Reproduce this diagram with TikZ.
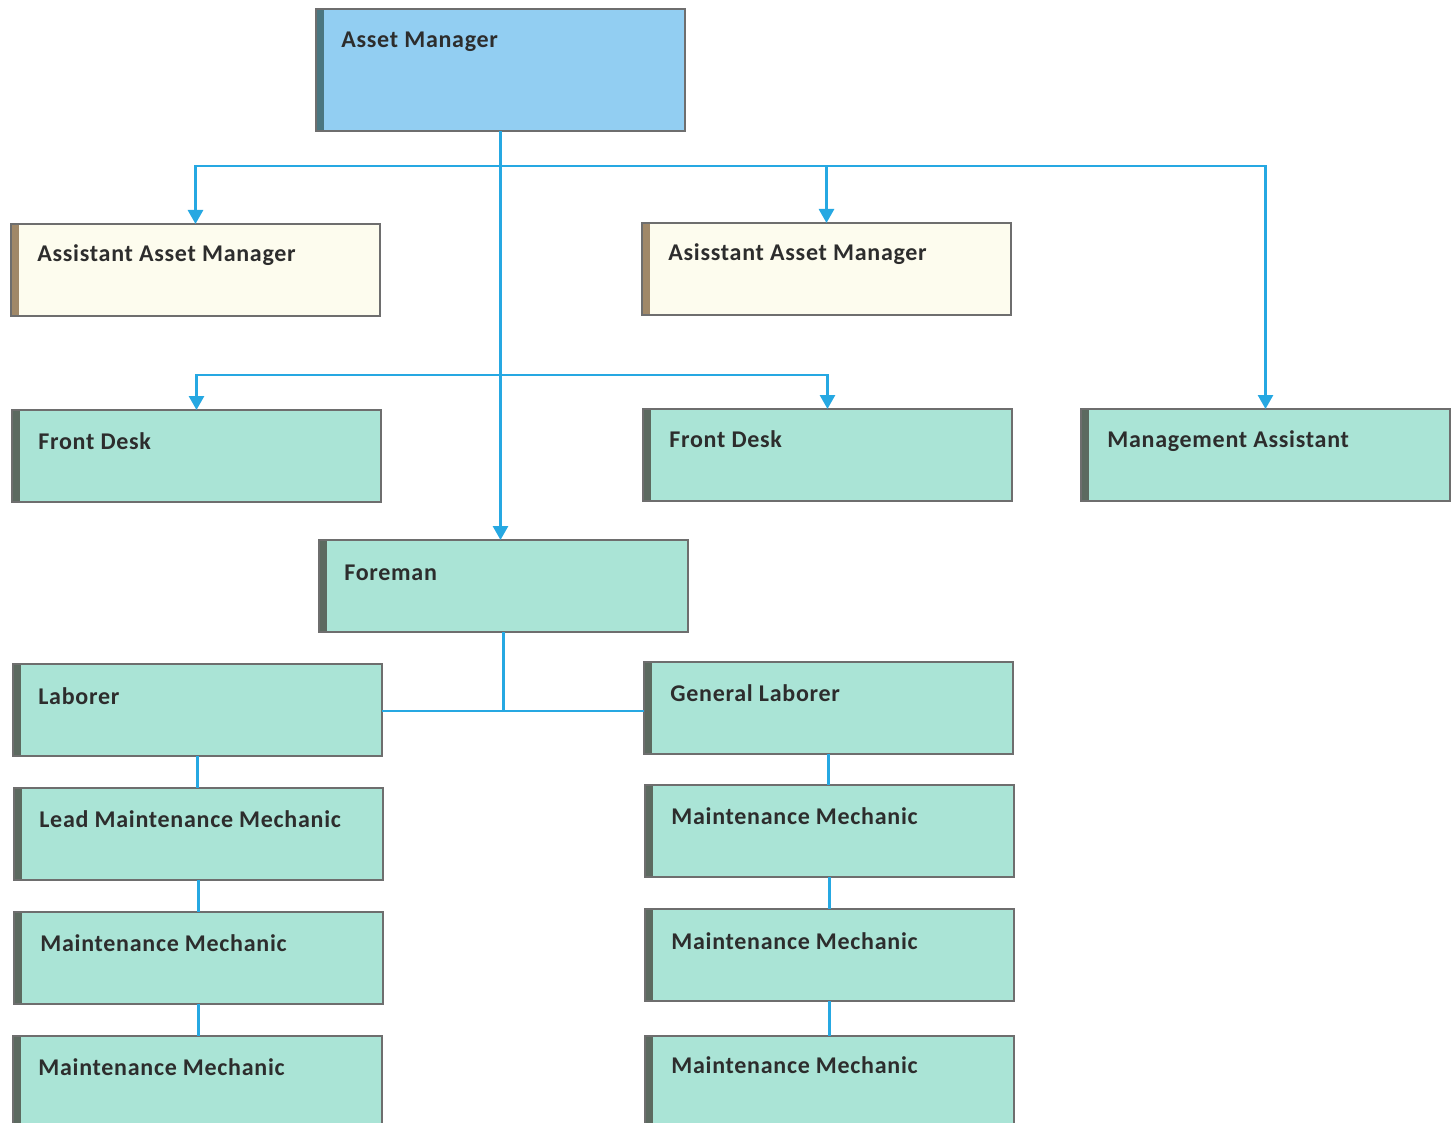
\documentclass[tikz,border=0pt]{standalone}
\usepackage{fontspec}
\setmainfont{Carlito}[LetterSpace=3]
\usetikzlibrary{arrows.meta}

\definecolor{linkblue}{RGB}{38,168,226}
\definecolor{topfill}{RGB}{146,206,242}
\definecolor{topbar}{RGB}{74,118,128}
\definecolor{creamfill}{RGB}{253,252,238}
\definecolor{creambar}{RGB}{160,136,104}
\definecolor{mintfill}{RGB}{170,228,214}
\definecolor{mintbar}{RGB}{92,106,96}
\definecolor{edgegray}{RGB}{110,110,110}
\definecolor{inkgray}{RGB}{45,45,45}

\tikzset{
  card/.style={draw=edgegray, line width=0.7pt, anchor=north west,
    inner sep=0pt, outer sep=0pt, minimum width=184.5pt, minimum height=46pt,
    path picture={\fill[#1] (path picture bounding box.north west)
      rectangle ([xshift=4pt]path picture bounding box.south west);}},
  topcard/.style={card=topbar, fill=topfill, minimum height=61pt},
  creamcard/.style={card=creambar, fill=creamfill},
  mintcard/.style={card=mintbar, fill=mintfill},
  title/.style={anchor=base west, inner sep=0pt, text=inkgray,
    font=\fontsize{12}{14}\selectfont\bfseries},
  link/.style={draw=linkblue, line width=1.4pt},
  feed/.style={link, -{Triangle[length=7pt,width=7.5pt]}},
}

\begin{document}
\begin{tikzpicture}[x=0.5pt, y=-0.5pt]
\useasboundingbox (0,0) rectangle (1456,1123);
\clip (0,0) rectangle (1456,1123);

% boxes
\node[topcard]   (am)   at (316,9)    {};
\node[creamcard] (aam1) at (11,224)   {};
\node[creamcard] (aam2) at (642,223)  {};
\node[mintcard]  (fd1)  at (12,410)   {};
\node[mintcard]  (fd2)  at (643,409)  {};
\node[mintcard]  (ma)   at (1081,409) {};
\node[mintcard]  (fm)   at (319,540)  {};
\node[mintcard]  (lab)  at (13,664)   {};
\node[mintcard]  (gl)   at (644,662)  {};
\node[mintcard]  (lmm)  at (14,788)   {};
\node[mintcard]  (mr1)  at (645,785)  {};
\node[mintcard]  (ml1)  at (14,912)   {};
\node[mintcard]  (mr2)  at (645,909)  {};
\node[mintcard]  (ml2)  at (13,1036)  {};
\node[mintcard]  (mr3)  at (645,1036) {};

% titles
\node[title] (tam)   at ([shift={(25,39)}]am.north west)   {Asset Manager};
\node[title] (taam1) at ([shift={(26,38)}]aam1.north west) {Assistant Asset Manager};
\node[title] (taam2) at ([shift={(26,38)}]aam2.north west) {Asisstant Asset Manager};
\node[title] (tfd1)  at ([shift={(26,39)}]fd1.north west)  {Front Desk};
\node[title] (tfd2)  at ([shift={(26,38)}]fd2.north west)  {Front Desk};
\node[title] (tma)   at ([shift={(26,38)}]ma.north west)   {Management Assistant};
\node[title] (tfm)   at ([shift={(25,40)}]fm.north west)   {Foreman};
\node[title] (tlab)  at ([shift={(25,40)}]lab.north west)  {Laborer};
\node[title] (tgl)   at ([shift={(26,39)}]gl.north west)   {General Laborer};
\node[title] (tlmm)  at ([shift={(25,39)}]lmm.north west)  {Lead Maintenance Mechanic};
\node[title] (tmr1)  at ([shift={(26,39)}]mr1.north west)  {Maintenance Mechanic};
\node[title] (tml1)  at ([shift={(26,39)}]ml1.north west)  {Maintenance Mechanic};
\node[title] (tmr2)  at ([shift={(26,40)}]mr2.north west)  {Maintenance Mechanic};
\node[title] (tml2)  at ([shift={(25,39)}]ml2.north west)  {Maintenance Mechanic};
\node[title] (tmr3)  at ([shift={(26,37)}]mr3.north west)  {Maintenance Mechanic};

% reporting lines
\coordinate (busA) at (am.south |- 0,166);
\coordinate (busB) at (am.south |- 0,375);
\draw[feed] (am.south) -- (am.south |- fm.north);
\draw[feed] (busA) -| (aam1.north);
\draw[feed] (busA) -| (aam2.north);
\draw[feed] (busA) -| (ma.north);
\draw[feed] (busB) -| (fd1.north);
\draw[feed] (busB) -| (fd2.north);

\coordinate (fj) at (fm.south |- 0,711);
\draw[link] (fm.south) -- (fj);
\draw[link] (fj -| lab.east) -- (fj -| gl.west);

\draw[link] (lab.south) -- (lab.south |- lmm.north);
\draw[link] (lmm.south) -- (lmm.south |- ml1.north);
\draw[link] (ml1.south) -- (ml1.south |- ml2.north);
\draw[link] (gl.south) -- (gl.south |- mr1.north);
\draw[link] (mr1.south) -- (mr1.south |- mr2.north);
\draw[link] (mr2.south) -- (mr2.south |- mr3.north);
\end{tikzpicture}
\end{document}
